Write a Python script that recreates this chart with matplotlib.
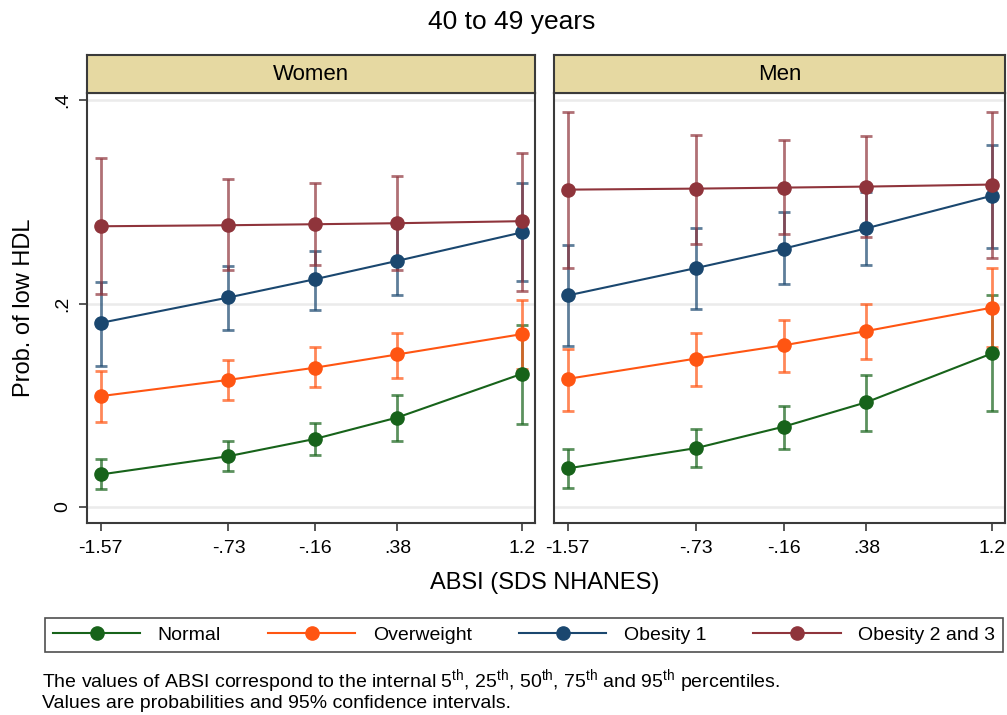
import numpy as np
import matplotlib
matplotlib.use("Agg")
import matplotlib.pyplot as plt
from matplotlib.lines import Line2D

plt.rcParams["font.family"] = ["Liberation Sans", "DejaVu Sans"]
plt.rcParams["mathtext.default"] = "regular"

# ABSI values (internal percentiles)
absi = [-1.57, -0.73, -0.16, 0.38, 1.2]
absi_labels = ["-1.57", "-.73", "-.16", ".38", "1.2"]

groups = ["Normal", "Overweight", "Obesity 1", "Obesity 2 and 3"]
colors = ["#17631a", "#ff5512", "#1a476f", "#8f343b"]

# Women: probability, lower and upper 95% CI
women_normal = [0.032, 0.050, 0.067, 0.088, 0.131]
women_normal_lo = [0.018, 0.035, 0.051, 0.065, 0.082]
women_normal_hi = [0.047, 0.065, 0.083, 0.110, 0.179]

women_over = [0.109, 0.125, 0.137, 0.150, 0.170]
women_over_lo = [0.084, 0.105, 0.118, 0.127, 0.136]
women_over_hi = [0.134, 0.145, 0.157, 0.171, 0.204]

women_ob1 = [0.181, 0.206, 0.224, 0.242, 0.270]
women_ob1_lo = [0.139, 0.174, 0.194, 0.208, 0.222]
women_ob1_hi = [0.221, 0.237, 0.252, 0.276, 0.319]

women_ob23 = [0.276, 0.277, 0.278, 0.279, 0.281]
women_ob23_lo = [0.209, 0.233, 0.238, 0.233, 0.212]
women_ob23_hi = [0.343, 0.322, 0.319, 0.325, 0.348]

# Men
men_normal = [0.038, 0.058, 0.079, 0.103, 0.151]
men_normal_lo = [0.019, 0.039, 0.057, 0.075, 0.094]
men_normal_hi = [0.057, 0.077, 0.099, 0.130, 0.208]

men_over = [0.126, 0.146, 0.159, 0.173, 0.196]
men_over_lo = [0.094, 0.119, 0.133, 0.146, 0.157]
men_over_hi = [0.155, 0.171, 0.184, 0.200, 0.235]

men_ob1 = [0.208, 0.235, 0.254, 0.274, 0.306]
men_ob1_lo = [0.158, 0.195, 0.219, 0.238, 0.255]
men_ob1_hi = [0.258, 0.274, 0.290, 0.310, 0.356]

men_ob23 = [0.312, 0.313, 0.314, 0.315, 0.317]
men_ob23_lo = [0.235, 0.259, 0.268, 0.265, 0.245]
men_ob23_hi = [0.388, 0.366, 0.361, 0.365, 0.388]

panels = [
    ("Women", [(women_normal, women_normal_lo, women_normal_hi),
               (women_over, women_over_lo, women_over_hi),
               (women_ob1, women_ob1_lo, women_ob1_hi),
               (women_ob23, women_ob23_lo, women_ob23_hi)]),
    ("Men", [(men_normal, men_normal_lo, men_normal_hi),
             (men_over, men_over_lo, men_over_hi),
             (men_ob1, men_ob1_lo, men_ob1_hi),
             (men_ob23, men_ob23_lo, men_ob23_hi)]),
]

W, H = 1007, 715
fig = plt.figure(figsize=(W / 100, H / 100), dpi=100)


def px_box(x0, y0, x1, y1):
    return [x0 / W, 1 - y1 / H, (x1 - x0) / W, (y1 - y0) / H]


panel_x = [(87, 535), (554, 1005)]
edge = "#3a3a3a"

for i, (name, series) in enumerate(panels):
    x0, x1 = panel_x[i]
    ax = fig.add_axes(px_box(x0, 93, x1, 523))
    for (m, lo, hi), c in zip(series, colors):
        m = np.array(m)
        err = [m - np.array(lo), np.array(hi) - m]
        ax.errorbar(absi, m, yerr=err, fmt="none", ecolor=c, elinewidth=2,
                    capsize=4, capthick=2, alpha=0.7, zorder=3)
        ax.plot(absi, m, color=c, lw=1.5, marker="o", ms=9.5, zorder=4)
    ax.set_xlim(-1.66, 1.285)
    ax.set_ylim(-0.0157, 0.407)
    for yv in [0, 0.2, 0.4]:
        ax.axhline(yv, color="#ebebeb", lw=1.8, zorder=0)
    ax.set_xticks(absi)
    ax.set_xticklabels(absi_labels, fontsize=14)
    ax.tick_params(axis="x", length=6, width=1.2, color=edge, pad=6)
    if i == 0:
        ax.set_yticks([0, 0.2, 0.4])
        ax.set_yticklabels(["0", ".2", ".4"], rotation=90, va="center", fontsize=14)
        ax.tick_params(axis="y", length=6, width=1.2, color=edge, pad=5)
        ax.set_ylabel("Prob. of low HDL", fontsize=17, labelpad=14)
    else:
        ax.set_yticks([])
    for s in ax.spines.values():
        s.set_color(edge)
        s.set_linewidth(1.5)

    # strip header
    sax = fig.add_axes(px_box(x0, 55, x1, 93))
    sax.set_facecolor("#e6d9a2")
    sax.set_xticks([])
    sax.set_yticks([])
    for s in sax.spines.values():
        s.set_color(edge)
        s.set_linewidth(1.5)
    sax.text(0.5, 0.5, name, ha="center", va="center", fontsize=16,
             transform=sax.transAxes)

fig.text(512 / W, 1 - 22 / H, "40 to 49 years", ha="center", va="center", fontsize=19)
fig.text(545 / W, 1 - 583 / H, "ABSI (SDS NHANES)", ha="center", va="center", fontsize=17)

handles = [Line2D([0], [0], color=c, lw=1.5, marker="o", ms=9.5) for c in colors]
leg = fig.legend(handles, groups, loc="center", ncol=4, mode="expand",
                 bbox_to_anchor=(45 / W, 1 - 658 / H, 958 / W, 46 / H),
                 fontsize=14, handlelength=4.5, frameon=True, fancybox=False,
                 borderaxespad=0, handletextpad=0.9, columnspacing=1.5)
leg.get_frame().set_edgecolor("#222222")
leg.get_frame().set_linewidth(1.2)

fig.text(42 / W, 1 - 681 / H,
         r"The values of ABSI correspond to the internal 5$^{th}$, 25$^{th}$, 50$^{th}$, "
         r"75$^{th}$ and 95$^{th}$ percentiles.", ha="left", va="center", fontsize=14)
fig.text(42 / W, 1 - 703 / H, "Values are probabilities and 95% confidence intervals.",
         ha="left", va="center", fontsize=14)

fig.savefig("out.png", dpi=100)
